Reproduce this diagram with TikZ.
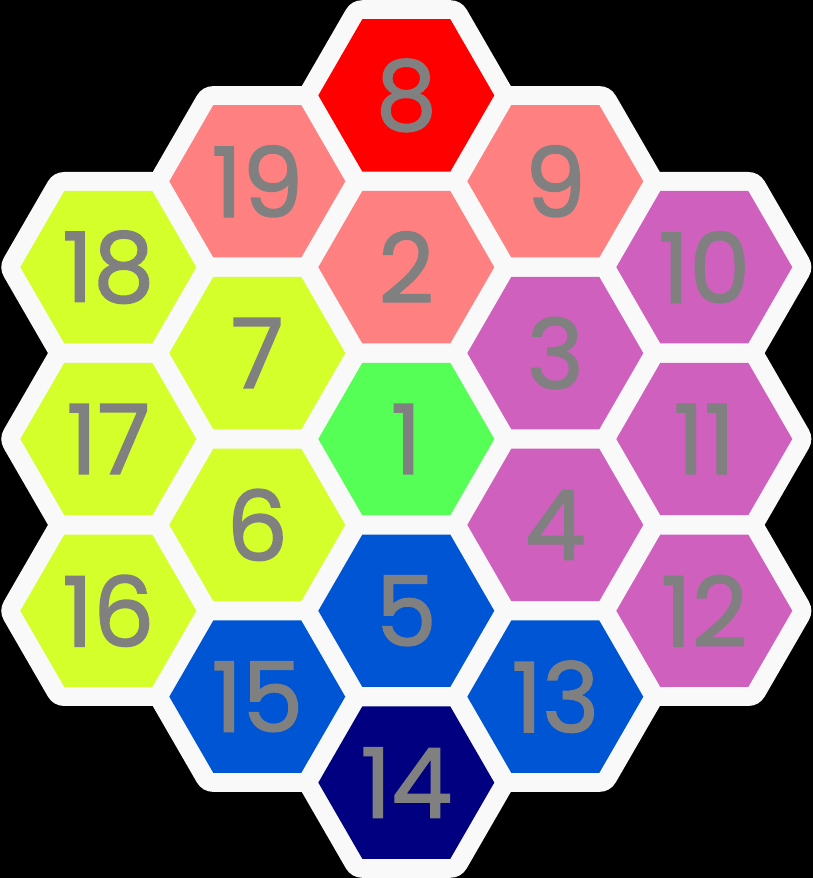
\documentclass[tikz,border=0pt]{standalone}
\usepackage{fontspec}
\setmainfont{Poppins}[AutoFakeBold=1.6]
\usetikzlibrary{shapes.geometric,backgrounds}

\definecolor{hexred}{HTML}{FF0000}
\definecolor{salmon}{HTML}{FF8080}
\definecolor{lime}{HTML}{D4FF2A}
\definecolor{orchid}{HTML}{D060BE}
\definecolor{mint}{HTML}{55FF55}
\definecolor{royal}{HTML}{0055D4}
\definecolor{navy}{HTML}{000080}
\definecolor{rim}{HTML}{F9F9F9}
\definecolor{digit}{HTML}{808080}

\tikzset{
  cell/.style={regular polygon, regular polygon sides=6, minimum size=3.52cm,
    inner sep=0pt, outer sep=0pt, text=digit, font=\fontsize{55}{55}\selectfont\bfseries},
  rimcell/.style={regular polygon, regular polygon sides=6, minimum size=3.52cm,
    inner sep=0pt, outer sep=0pt, draw=rim, line width=0.76cm, line join=round}
}

\begin{document}
\begin{tikzpicture}[x=0.02cm,y=0.02cm]
% cells, top to bottom
\node[cell, fill=hexred] (h8)  at (406.3,782.6) {8};
\node[cell, fill=salmon] (h19) at (257.3,696.7) {19};
\node[cell, fill=salmon] (h9)  at (555.3,696.7) {9};
\node[cell, fill=lime]   (h18) at (108.3,610.8) {18};
\node[cell, fill=salmon] (h2)  at (406.3,610.8) {2};
\node[cell, fill=orchid] (h10) at (704.3,610.8) {10};
\node[cell, fill=lime]   (h7)  at (257.3,524.9) {7};
\node[cell, fill=orchid] (h3)  at (555.3,524.9) {3};
\node[cell, fill=lime]   (h17) at (108.3,439) {17};
\node[cell, fill=mint]   (h1)  at (406.3,439) {1};
\node[cell, fill=orchid] (h11) at (704.3,439) {11};
\node[cell, fill=lime]   (h6)  at (257.3,353.1) {6};
\node[cell, fill=orchid] (h4)  at (555.3,353.1) {4};
\node[cell, fill=lime]   (h16) at (108.3,267.2) {16};
\node[cell, fill=royal]  (h5)  at (406.3,267.2) {5};
\node[cell, fill=orchid] (h12) at (704.3,267.2) {12};
\node[cell, fill=royal]  (h15) at (257.3,181.3) {15};
\node[cell, fill=royal]  (h13) at (555.3,181.3) {13};
\node[cell, fill=navy]   (h14) at (406.3,95.4) {14};
% white rims behind
\begin{scope}[on background layer]
\fill[black] (0,0) rectangle (813,878);
\foreach \h in {h1,h2,h3,h4,h5,h6,h7,h8,h9,h10,h11,h12,h13,h14,h15,h16,h17,h18,h19}
  \node[rimcell] at (\h) {};
\end{scope}
\end{tikzpicture}
\end{document}
